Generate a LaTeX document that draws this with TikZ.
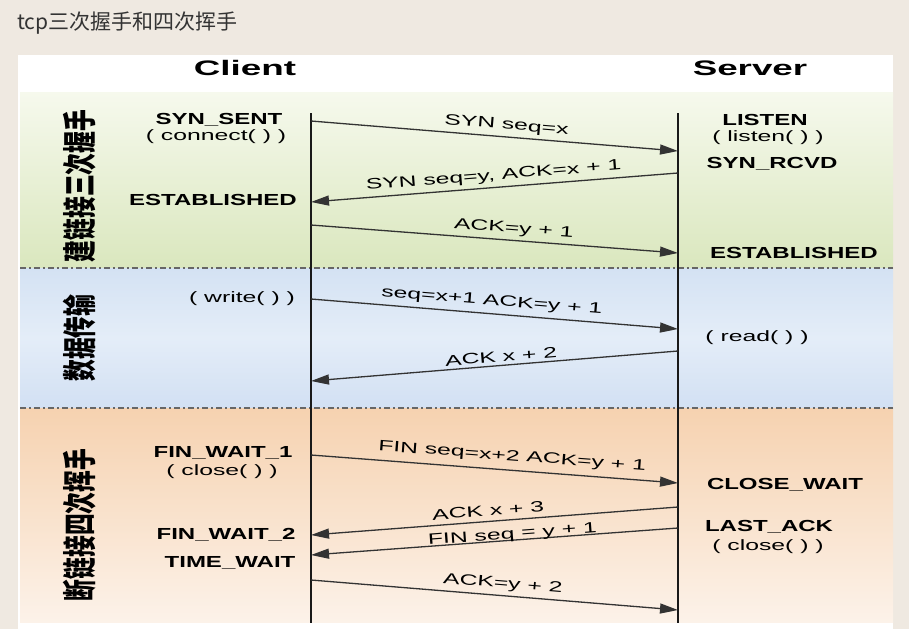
\documentclass[tikz,border=0pt]{standalone}
\usepackage{fontspec}
\usetikzlibrary{arrows.meta,positioning,calc}
\newfontfamily\lblfont[FakeStretch=1.65]{Liberation Sans}
\newfontfamily\stfont[FakeStretch=1.5]{Liberation Sans}
\newfontfamily\hdfont[FakeStretch=1.75]{Liberation Sans}
\newfontfamily\cjkfont{Noto Sans CJK SC}
\newfontfamily\cjkvfont[FakeStretch=0.64]{Noto Sans CJK SC}
\definecolor{pagebg}{RGB}{239,233,225}
\definecolor{gTop}{RGB}{246,249,237}
\definecolor{gBot}{RGB}{218,231,190}
\definecolor{bTop}{RGB}{212,226,243}
\definecolor{bMid}{RGB}{228,237,248}
\definecolor{bBot}{RGB}{210,224,243}
\definecolor{oTop}{RGB}{246,210,176}
\definecolor{oBot}{RGB}{252,242,233}
\tikzset{
  thead/.style ={font=\hdfont\bfseries\fontsize{21}{24}\selectfont, inner sep=0pt},
  tstate/.style={font=\stfont\bfseries\fontsize{16}{18}\selectfont, inner sep=0pt},
  tcall/.style ={font=\lblfont\fontsize{15}{17}\selectfont, inner sep=0pt},
  tphase/.style={font=\cjkvfont\bfseries\fontsize{34}{36}\selectfont, rotate=90, inner sep=0pt},
  tlife/.style ={line width=1.8pt, draw=black!90},
  tsep/.style  ={line width=1.4pt, draw=black!60, dash pattern=on 6pt off 3pt on 2pt off 3pt},
  tmsg/.style  ={-{Triangle[length=18pt,width=10pt]}, line width=1.3pt, draw=black!80},
  tlbl/.style  ={font=\lblfont\fontsize{15}{17}\selectfont, sloped, above=3pt,
                 inner sep=1pt, text height=11pt, text depth=3pt},
}

\begin{document}
\begin{tikzpicture}[x=1pt, y=-1pt]
  \useasboundingbox[fill=pagebg] (0,0) rectangle (909,629);

  % ---- title + panel ----
  \node[anchor=west, font=\cjkfont\fontsize{21}{24}\selectfont, text=black!80, inner sep=0pt]
    (title) at (17,23) {tcp三次握手和四次挥手};
  \fill[white] (18,55) rectangle (893,629);

  % ---- phase bands ----
  \shade[top color=gTop, bottom color=gBot] (20,92) rectangle (893,268);
  \shade[top color=bTop, bottom color=bBot, middle color=bMid] (20,268) rectangle (893,408);
  \shade[top color=oTop, bottom color=oBot] (20,408) rectangle (893,622);
  \draw[tsep] (20,268) -- (893,268);
  \draw[tsep] (20,408) -- (893,408);

  \node[tphase] (ph1) at (80,186) {建链接三次握手};
  \node[tphase] (ph2) at (80,338) {数据传输};
  \node[tphase] (ph3) at (80,525) {断链接四次挥手};

  % ---- lifelines ----
  \node[thead] (client) at (245,68) {Client};
  \node[thead] (server) at (750,68) {Server};
  \coordinate (cTop) at (311,113);
  \coordinate (cBot) at (311,623);
  \coordinate (sTop) at (678,113);
  \coordinate (sBot) at (678,623);
  \draw[tlife] (cTop) -- (cBot);
  \draw[tlife] (sTop) -- (sBot);

  % ---- client states ----
  \node[tstate] (synsent)  at (219,120) {SYN\_SENT};
  \node[tcall]  (connect)  at (216,137) {( connect( ) )};
  \node[tstate] (cestab)   at (213,200) {ESTABLISHED};
  \node[tcall]  (write)    at (242,299) {( write( ) )};
  \node[tstate] (finwait1) at (223,453) {FIN\_WAIT\_1};
  \node[tcall]  (cclose)   at (222,472) {( close( ) )};
  \node[tstate] (finwait2) at (226,535) {FIN\_WAIT\_2};
  \node[tstate] (timewait) at (230,563) {TIME\_WAIT};

  % ---- server states ----
  \node[tstate] (listen)   at (765,120) {LISTEN};
  \node[tcall]  (listenf)  at (768,138) {( listen( ) )};
  \node[tstate] (synrcvd)  at (772,164) {SYN\_RCVD};
  \node[tstate] (sestab)   at (794,253) {ESTABLISHED};
  \node[tcall]  (read)     at (757,338) {( read( ) )};
  \node[tstate] (closewait) at (785,485) {CLOSE\_WAIT};
  \node[tstate] (lastack)  at (769,527) {LAST\_ACK};
  \node[tcall]  (sclose)   at (768,547) {( close( ) )};

  % ---- message ends ----
  \coordinate (c1) at (311,121); \coordinate (s1) at (678,151);
  \coordinate (s2) at (678,173); \coordinate (c2) at (311,202);
  \coordinate (c3) at (311,225); \coordinate (s3) at (678,253);
  \coordinate (c4) at (311,299); \coordinate (s4) at (678,329);
  \coordinate (s5) at (678,351); \coordinate (c5) at (311,381);
  \coordinate (c6) at (311,455); \coordinate (s6) at (678,483);
  \coordinate (s7) at (678,507); \coordinate (c7) at (311,535);
  \coordinate (s8) at (678,528); \coordinate (c8) at (311,555);
  \coordinate (c9) at (311,580); \coordinate (s9) at (678,610);

  % ---- messages ----
  \draw[tmsg] (c1) -- node[tlbl, pos=.53] (m1) {SYN seq=x} (s1);
  \draw[tmsg] (s2) -- node[tlbl, pos=.50] (m2) {SYN seq=y, ACK=x + 1} (c2);
  \draw[tmsg] (c3) -- node[tlbl, pos=.55] (m3) {ACK=y + 1} (s3);
  \draw[tmsg] (c4) -- node[tlbl, pos=.49, above=4pt] (m4) {seq=x+1 ACK=y + 1} (s4);
  \draw[tmsg] (s5) -- node[tlbl, pos=.48, above=-1pt] (m5) {ACK x + 2} (c5);
  \draw[tmsg] (c6) -- node[tlbl, pos=.545, above=5pt] (m6) {FIN seq=x+2 ACK=y + 1} (s6);
  \draw[tmsg] (s7) -- node[tlbl, pos=.515, above=4pt, text depth=0pt] (m7) {ACK x + 3} (c7);
  \draw[tmsg] (s8) -- node[tlbl, pos=.45, above=-3pt, text height=10pt] (m8) {FIN seq = y + 1} (c8);
  \draw[tmsg] (c9) -- node[tlbl, pos=.52] (m9) {ACK=y + 2} (s9);

\end{tikzpicture}
\end{document}
